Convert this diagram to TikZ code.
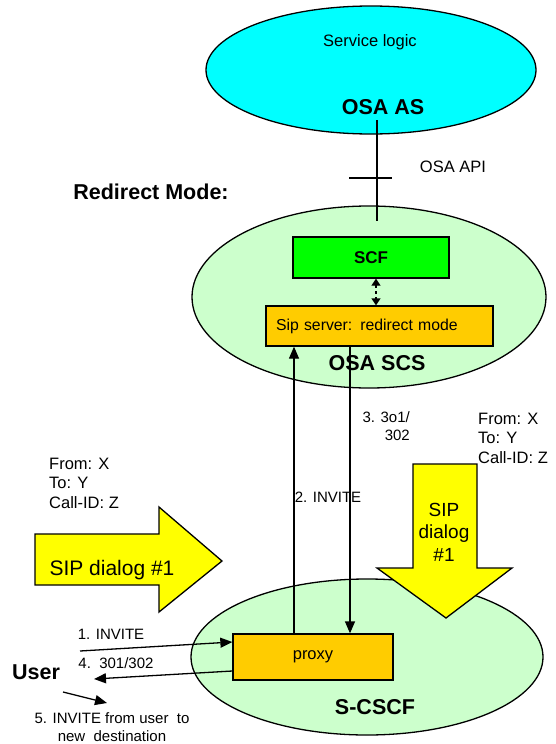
\documentclass[tikz,border=0pt]{standalone}
\usepackage{fontspec}
\setmainfont{Liberation Sans}
\usetikzlibrary{shapes.geometric, arrows.meta, positioning, calc}

\definecolor{asblue}{HTML}{00FFFF}
\definecolor{scsgreen}{HTML}{CCFFCC}
\definecolor{scfgreen}{HTML}{00FF00}
\definecolor{boxorange}{HTML}{FFCC00}
\definecolor{dlgyellow}{HTML}{FFFF00}

\begin{document}
\begin{tikzpicture}[
    x=1pt, y=-1pt,
    font=\fontsize{16.5}{19.5}\selectfont,
    ent/.style={draw, ellipse, line width=1.3pt, inner sep=0pt},
    box/.style={draw, line width=1.3pt, inner sep=0pt},
    big/.style={font=\fontsize{21.5}{24}\selectfont\bfseries},
    msg/.style={font=\fontsize{15}{18.5}\selectfont},
    arr/.style={-{Triangle[length=12pt,width=10pt]}, line width=1.3pt},
    dbl/.style={{Triangle[length=7pt,width=9pt]}-{Triangle[length=7pt,width=9pt]}, dashed, line width=1.3pt},
    dlg/.style={draw, line width=1.3pt, fill=dlgyellow},
]
\useasboundingbox (0,0) rectangle (555,744);

% The three entities (ellipses), titles are set as separate nodes
\node[ent, fill=asblue, minimum width=330pt, minimum height=128pt] (as) at (371,70) {};
\node[ent, fill=scsgreen, minimum width=354pt, minimum height=182pt] (scs) at (369,297) {};
\node[ent, fill=scsgreen, minimum width=352pt, minimum height=156pt] (cscf) at (367,657) {};

\node (logic) at (370,42) {Service logic};
\node[big] (astitle) at (383,107) {OSA AS};
\node[big] (scstitle) at (377,363) {OSA SCS};
\node[big] (cscftitle) at (375,707) {S-CSCF};
\node[big] (mode) at (151,192) {Redirect Mode:};

% OSA API interface
\coordinate (apitop) at (377,120);
\coordinate (apibot) at (377,221);
\coordinate (apimid) at (377,178);
\draw[line width=1.3pt] (apitop) -- (apibot);
\draw[line width=1.3pt] ([xshift=-28pt]apimid) -- ([xshift=15pt]apimid);
\node (api) at (453,167) {OSA API};

% Boxes inside the SCS and the S-CSCF
\node[box, fill=scfgreen, minimum width=156pt, minimum height=41pt,
      font=\fontsize{17}{20}\selectfont\bfseries] (scf) at (371,257.5) {SCF};
\node[box, fill=boxorange, minimum width=227pt, minimum height=40pt, inner xsep=10pt,
      text width=207pt, align=left, font=\fontsize{15.8}{19}\selectfont] (sip) at (379.5,326) {Sip server: redirect mode};
\node[box, fill=boxorange, minimum width=160pt, minimum height=46pt] (proxy) at (313,657) {proxy};

\coordinate (scfdown) at ([xshift=5pt]scf.south);
\draw[dbl] (scfdown) -- (scfdown |- sip.north);

% SIP dialog block arrows
\draw[dlg] (35,534) -- (159,534) -- (159,507) -- (222,561) -- (159,612) -- (159,585) -- (35,585) -- cycle;
\draw[dlg] (413,464) -- (477,464) -- (477,568) -- (512,568) -- (446,618) -- (377,568) -- (413,568) -- cycle;
\node[font=\fontsize{21}{25}\selectfont] (dlgleft) at (112,570) {SIP dialog \#1};
\node[font=\fontsize{19}{22.5}\selectfont, align=center] (dlgdown) at (444,532) {SIP\\dialog\\\#1};

% Header fields of the dialog
\node[inner sep=0pt, align=left, anchor=west] (hdrright) at (478,438) {From: X\\To: Y\\Call-ID: Z};
\node[inner sep=0pt, align=left, anchor=west] (hdrleft) at (49,483) {From: X\\To: Y\\Call-ID: Z};

% Messages
\node[msg] (m2) at (328,497) {2. INVITE};
\node[msg, inner sep=0pt, align=right, anchor=east] (m3) at (410,426) {3. 3o1/\\302};
\node[msg] (m1) at (111,634) {1. INVITE};
\node[msg] (m4) at (116,663) {4.\ \ 301/302};
\node[big] (user) at (36,672) {User};
\node[msg, align=center] (m5) at (112,727) {5. INVITE from user\ \ to\\new\ \ destination};

\coordinate (p2) at ([xshift=-19pt]proxy.north);
\coordinate (p3) at ([xshift=37pt]proxy.north);
\draw[arr] (p2) -- (p2 |- sip.south);
\draw[arr] (p3 |- sip.south) -- (p3);

\coordinate (u1) at (80,651);
\coordinate (u4) at (94,679);
\coordinate (u5a) at (63,692);
\coordinate (u5b) at (107,703);
\draw[arr] (u1) -- ([yshift=15pt]proxy.west);
\draw[arr] ([yshift=-14pt]proxy.west) -- (u4);
\draw[arr] (u5a) -- (u5b);
\end{tikzpicture}
\end{document}
